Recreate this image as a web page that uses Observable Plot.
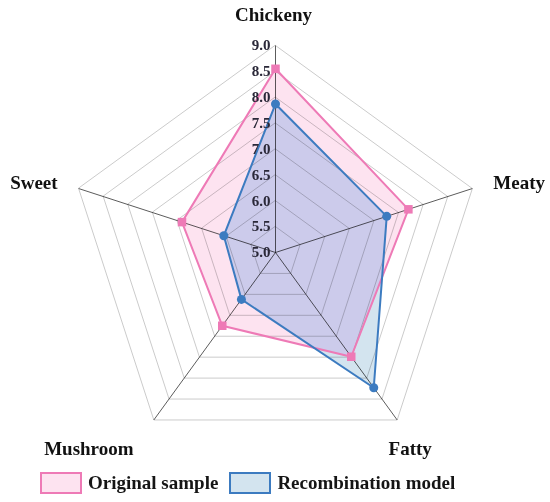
<!DOCTYPE html>
<html><head><meta charset="utf-8">
<script src="https://cdn.jsdelivr.net/npm/d3@7"></script>
<script src="https://cdn.jsdelivr.net/npm/@observablehq/plot@0.6"></script>
<style>
body{margin:0;background:#fff;}
#legend{display:flex;align-items:center;height:38px;padding-left:40px;font-family:"Liberation Serif","Times New Roman",serif;font-weight:bold;font-size:19px;color:#151515;}
.sw{box-sizing:border-box;width:42px;height:22px;border:2px solid;margin-right:6px;}
.item{display:flex;align-items:center;margin-right:11px;}
</style></head><body><div id="chart"></div><div id="legend"></div>
<script>
// ---- data ----
const categories = ["Chickeny", "Meaty", "Fatty", "Mushroom", "Sweet"];
const originalSample = [8.55, 7.70, 7.49, 6.75, 6.90];
const recombinationModel = [7.87, 7.26, 8.23, 6.12, 6.05];
const tickValues = [5.0, 5.5, 6.0, 6.5, 7.0, 7.5, 8.0, 8.5, 9.0];
const tickLabels = ["5.0", "5.5", "6.0", "6.5", "7.0", "7.5", "8.0", "8.5", "9.0"];
const seriesNames = ["Original sample", "Recombination model"];

// ---- styles / layout ----
const pinkStroke = "#ee7ab6", pinkFill = "#fde3f0";
const blueStroke = "#3c7bc0", blueFill = "#d3e4ef";
const overlapFill = "#cccbeb";
const labelLayout = {
  Chickeny: {anchor: "middle", dx: -2, dy: -31},
  Meaty: {anchor: "start", dx: 21, dy: -6},
  Fatty: {anchor: "middle", dx: 13, dy: 29},
  Mushroom: {anchor: "middle", dx: -65, dy: 29},
  Sweet: {anchor: "end", dx: -21, dy: -6}
};

const minV = tickValues[0], maxV = tickValues[tickValues.length - 1];
const R = maxV - minV;
const ang = i => 2 * Math.PI * i / categories.length;
const px = (i, v) => (v - minV) * Math.sin(ang(i));
const py = (i, v) => (v - minV) * Math.cos(ang(i));

const rings = [];
tickValues.slice(1).forEach(t => categories.forEach((c, i) => rings.push({ring: t, x: px(i, t), y: py(i, t)})));
const spokes = categories.map((c, i) => ({c, x: px(i, maxV), y: py(i, maxV)}));
const pts = vals => vals.map((v, i) => ({c: categories[i], v, x: px(i, v), y: py(i, v)}));
const orig = pts(originalSample), reco = pts(recombinationModel);
const ticks = tickValues.map((t, k) => ({t, label: tickLabels[k]}));

const serif = "Liberation Serif, Times New Roman, serif";

const marks = [
  Plot.line(reco, {x: "x", y: "y", curve: "linear-closed", fill: blueFill, stroke: "none"}),
  Plot.line(orig, {x: "x", y: "y", curve: "linear-closed", fill: pinkFill, stroke: "none", className: "pinkfill"}),
  Plot.line(reco, {x: "x", y: "y", curve: "linear-closed", fill: overlapFill, stroke: "none", className: "overlap"}),
  Plot.line(rings, {x: "x", y: "y", z: "ring", curve: "linear-closed", stroke: "#cbcbcb", strokeWidth: 1, mixBlendMode: "multiply"}),
  Plot.link(spokes, {x1: () => 0, y1: () => 0, x2: "x", y2: "y", stroke: "#5c5c5c", strokeWidth: 1, mixBlendMode: "multiply"}),
  Plot.line(orig, {x: "x", y: "y", curve: "linear-closed", stroke: pinkStroke, strokeWidth: 2}),
  Plot.dot(orig, {x: "x", y: "y", symbol: "square", r: 4.8, fill: pinkStroke, stroke: "none"}),
  Plot.line(reco, {x: "x", y: "y", curve: "linear-closed", stroke: blueStroke, strokeWidth: 2}),
  Plot.dot(reco, {x: "x", y: "y", symbol: "circle", r: 4.5, fill: blueStroke, stroke: "none"}),
  Plot.text(ticks, {x: () => 0, y: d => d.t - minV, text: "label", textAnchor: "end", dx: -5, fontSize: 15, fontWeight: "bold", fontFamily: serif, fill: "#2a2838"}),
  ...spokes.map(s => Plot.text([s], {x: "x", y: "y", text: "c", textAnchor: labelLayout[s.c].anchor, dx: labelLayout[s.c].dx, dy: labelLayout[s.c].dy, fontSize: 19, fontWeight: "bold", fontFamily: serif, fill: "#111"}))
];

const svg = Plot.plot({
  width: 550, height: 464,
  marginLeft: 68, marginRight: 68, marginTop: 45, marginBottom: 5,
  x: {domain: [-R, R], axis: null},
  y: {domain: [-R, R], axis: null},
  style: {background: "#fff", overflow: "visible"},
  marks
});

// clip the overlap layer to the pink polygon
const pinkPath = svg.querySelector(".pinkfill path");
const ns = "http://www.w3.org/2000/svg";
const defs = document.createElementNS(ns, "defs");
const cp = document.createElementNS(ns, "clipPath");
cp.setAttribute("id", "pinkclip");
const p = document.createElementNS(ns, "path");
p.setAttribute("d", pinkPath.getAttribute("d"));
const pg = pinkPath.parentNode;
if (pg.getAttribute("transform")) p.setAttribute("transform", pg.getAttribute("transform"));
cp.appendChild(p); defs.appendChild(cp);
svg.insertBefore(defs, svg.firstChild);
svg.querySelector(".overlap").setAttribute("clip-path", "url(#pinkclip)");

document.getElementById("chart").appendChild(svg);

const legend = document.getElementById("legend");
[[seriesNames[0], pinkStroke, pinkFill], [seriesNames[1], blueStroke, blueFill]].forEach(([name, s, f]) => {
  const it = document.createElement("div"); it.className = "item";
  const sw = document.createElement("div"); sw.className = "sw"; sw.style.borderColor = s; sw.style.background = f;
  const tx = document.createElement("span"); tx.textContent = name;
  it.appendChild(sw); it.appendChild(tx); legend.appendChild(it);
});
</script></body></html>
